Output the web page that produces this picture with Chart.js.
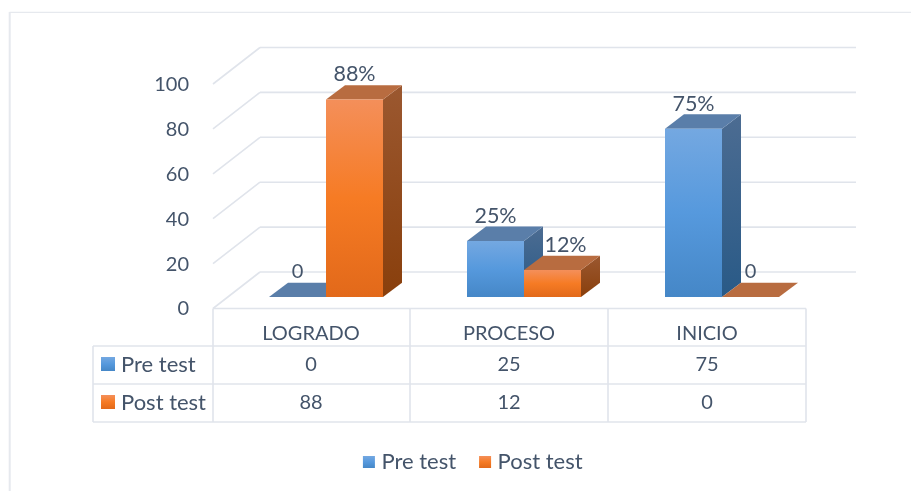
<!DOCTYPE html>
<html><head><meta charset="utf-8">
<style>html,body{margin:0;padding:0;background:#fff}canvas{display:block}</style>
<script src="https://cdn.jsdelivr.net/npm/chart.js@4/dist/chart.umd.min.js"></script>
</head><body><canvas id="c" width="911" height="491"></canvas>
<script>
const categories = ['LOGRADO','PROCESO','INICIO'];
const seriesNames = ['Pre test','Post test'];
const preTest = [0,25,75];
const postTest = [88,12,0];
const yTicks = [0,20,40,60,80,100];

const FONT = 'Lato, Carlito, sans-serif';
const TEXT = '#44546a';
const LINE = '#e0e4eb';
const palette = [
 {front:['#74a8e1','#5699dd','#4587c7'], top:'#5a7ea9', side:['#4c6c92','#295a87']},
 {front:['#f48f5a','#f67b24','#e2691a'], top:'#b86c40', side:['#9b5830','#893f0c']}
];
const grad = (g,y0,y1,stops)=>{
  const l=g.createLinearGradient(0,y0,0,y1);
  stops.forEach((c,i)=>l.addColorStop(i/(stops.length-1),c));
  return l;
};
const frontFill = k => ctx => {
  const ch=ctx.chart, y=ch.scales.y, v=ctx.raw;
  if(!y || !ch.chartArea || ctx.dataIndex===undefined || !v) return palette[k].front[1];
  return grad(ch.ctx,y.getPixelForValue(v),y.getPixelForValue(0),palette[k].front);
};
const DX=19, DY=14.3;
const line=(g,a,b,c,d)=>{g.beginPath();g.moveTo(a,b);g.lineTo(c,d);g.stroke();};
const poly=(g,pts,fill)=>{g.beginPath();pts.forEach((p,i)=>i?g.lineTo(p[0],p[1]):g.moveTo(p[0],p[1]));g.closePath();g.fillStyle=fill;g.fill();};

const chart3d = {
  id:'chart3d',
  beforeDatasetsDraw(chart){
    const g=chart.ctx, x=chart.scales.x, y=chart.scales.y;
    g.save();
    g.strokeStyle='#e6e9ee'; g.lineWidth=1.2;
    line(g,9.5,12.3,911,12.3);
    g.lineWidth=2; line(g,9.7,12,9.7,491);
    g.strokeStyle=LINE; g.lineWidth=1.6;
    const fx=x.left-14, bx=x.left+33, rx=x.right+35;
    yTicks.forEach(v=>{
      const p=y.getPixelForValue(v);
      line(g,fx,p+11.5,bx,p-25);
      line(g,bx,p-25,rx,p-25);
    });
    const cw=(x.getPixelForValue(1)-x.getPixelForValue(0));
    const cx=i=>x.getPixelForValue(i)-15;
    const t0=y.getPixelForValue(0)+11.5, r1=346, r2=384, r3=422, tx=93;
    line(g,fx,t0,cx(2)+cw/2,t0);
    [r1,r2,r3].forEach(r=>line(g,tx,r,cx(2)+cw/2,r));
    line(g,tx,r1,tx,r3);
    line(g,fx,t0,fx,r3);
    categories.forEach((c,i)=>line(g,cx(i)+cw/2,t0,cx(i)+cw/2,r3));
    g.textBaseline='middle';
    [preTest,postTest].forEach((vals,k)=>{
      const ry=[365,403][k];
      g.textAlign='center'; g.fillStyle=TEXT; g.font='20px '+FONT;
      vals.forEach((v,i)=>g.fillText(String(v),cx(i),ry));
      g.textAlign='left'; g.font='22px '+FONT;
      g.fillText(seriesNames[k],121,ry);
      g.fillStyle=grad(g,ry-8,ry+6,palette[k].front);
      g.fillRect(101,ry-8,14,14);
    });
    chart.data.datasets.forEach((ds,k)=>{
      chart.getDatasetMeta(k).data.forEach(b=>{
        const hw=b.width/2, l=b.x-hw, r=b.x+hw, t=b.y, base=b.base;
        if(base-t>0.5) poly(g,[[r,t],[r+DX,t-DY],[r+DX,base-DY],[r,base]],grad(g,t-DY,base,palette[k].side));
        poly(g,[[l,t],[r,t],[r+DX,t-DY],[l+DX,t-DY]],palette[k].top);
      });
    });
    g.restore();
  },
  afterDatasetsDraw(chart){
    const g=chart.ctx;
    g.save();
    g.fillStyle=TEXT; g.textAlign='center'; g.textBaseline='middle';
    chart.data.datasets.forEach((ds,k)=>{
      chart.getDatasetMeta(k).data.forEach((b,i)=>{
        const v=ds.data[i];
        const nudge=(k===1&&i===1)?13:0;
        g.font=(v===0?'20px ':'21.5px ')+FONT;
        g.fillText(v===0?'0':v+'%',b.x+nudge,b.y-25);
      });
    });
    g.restore();
  }
};

new Chart(document.getElementById('c'),{
  type:'bar',
  data:{labels:categories,datasets:[
    {label:seriesNames[0],data:preTest,backgroundColor:frontFill(0),borderWidth:0},
    {label:seriesNames[1],data:postTest,backgroundColor:frontFill(1),borderWidth:0}
  ]},
  plugins:[chart3d],
  options:{
    responsive:false,animation:false,
    devicePixelRatio:1,
    layout:{padding:{left:129,right:90,top:72.5,bottom:8}},
    datasets:{bar:{barPercentage:1,categoryPercentage:114/198}},
    scales:{
      x:{grid:{display:false},border:{display:false},
        afterFit(s){s.height=126.5;},
        ticks:{labelOffset:-15,padding:16.5,autoSkip:false,maxRotation:0,color:TEXT,font:{family:FONT,size:20}}},
      y:{min:0,max:100,grid:{display:false},border:{display:false},
        afterFit(s){s.width=98;},
        ticks:{stepSize:20,labelOffset:12,padding:30,color:TEXT,font:{family:FONT,size:20}}}
    },
    plugins:{
      tooltip:{enabled:false},
      legend:{position:'bottom',align:'center',
        labels:{usePointStyle:true,boxWidth:3,boxHeight:12,padding:27.5,color:TEXT,font:{family:FONT,size:22},
          generateLabels(chart){
            return chart.data.datasets.map((d,k)=>({text:d.label,datasetIndex:k,pointStyle:'rect',lineWidth:0,strokeStyle:'transparent',fontColor:TEXT,
              fillStyle:grad(chart.ctx,456,468,palette[k].front)}));
          }}}
    }
  }
});
</script></body></html>
